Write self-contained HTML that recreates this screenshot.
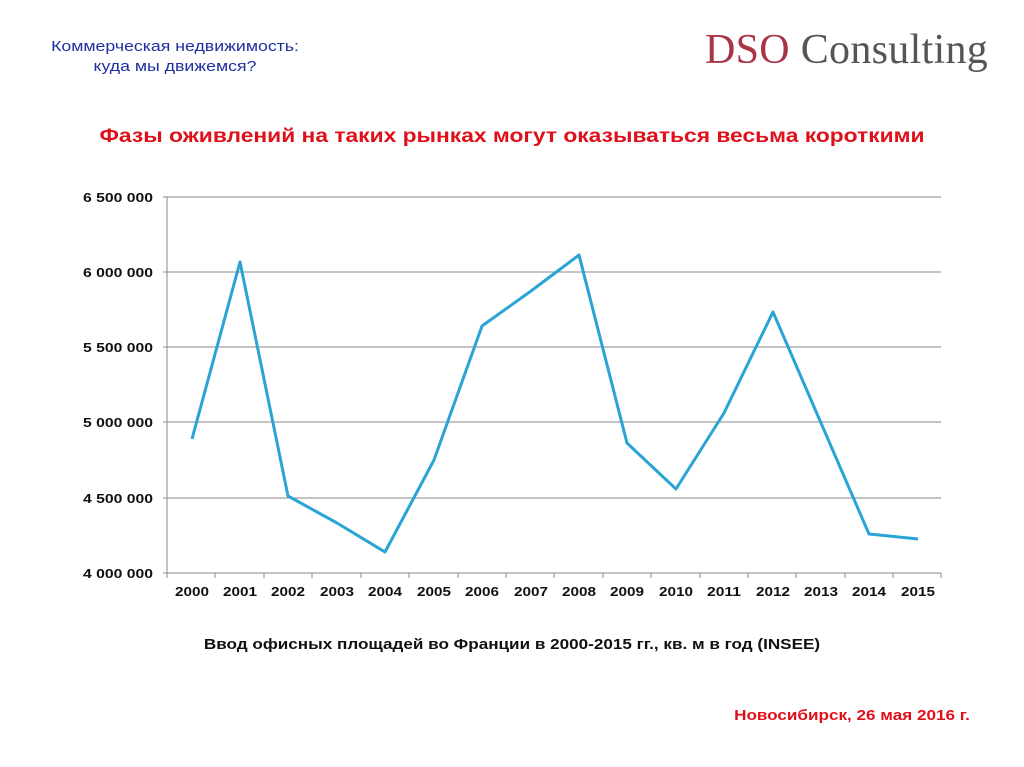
<!DOCTYPE html>
<html><head><meta charset="utf-8"><style>
body{margin:0;background:#fff;width:1024px;height:767px;overflow:hidden;position:relative;font-family:"Liberation Sans",sans-serif}
.t{position:absolute;white-space:nowrap}
.s{transform:scaleX(1.18);transform-origin:center}
</style></head><body>
<div class="t s" style="left:0;width:350px;top:37px;text-align:center;color:#1f2fa0;font-size:15px;line-height:20px">Коммерческая недвижимость:<br>куда мы движемся?</div>
<div class="t" style="left:705px;top:26px;font-family:'Liberation Serif',serif;font-size:42px;color:#555;letter-spacing:0.3px"><span style="color:#a93445">DSO</span> Consulting</div>
<div class="t" style="left:0;width:1024px;top:126px;text-align:center;color:#e0101a;font-size:19px;font-weight:bold;transform:scaleX(1.2);transform-origin:center">Фазы оживлений на таких рынках могут оказываться весьма короткими</div>
<svg class="t" style="left:0;top:0" width="1024" height="767">
<g stroke="#888" stroke-width="1">
<line x1="163" y1="197" x2="941" y2="197"/><line x1="163" y1="272" x2="941" y2="272"/>
<line x1="163" y1="347" x2="941" y2="347"/><line x1="163" y1="422" x2="941" y2="422"/>
<line x1="163" y1="498" x2="941" y2="498"/><line x1="163" y1="573" x2="941" y2="573"/>
<line x1="167" y1="197" x2="167" y2="573"/>
<line x1="167" y1="573" x2="167" y2="578"/><line x1="215" y1="573" x2="215" y2="578"/><line x1="264" y1="573" x2="264" y2="578"/><line x1="312" y1="573" x2="312" y2="578"/><line x1="361" y1="573" x2="361" y2="578"/><line x1="409" y1="573" x2="409" y2="578"/><line x1="458" y1="573" x2="458" y2="578"/><line x1="506" y1="573" x2="506" y2="578"/><line x1="554" y1="573" x2="554" y2="578"/><line x1="603" y1="573" x2="603" y2="578"/><line x1="651" y1="573" x2="651" y2="578"/><line x1="700" y1="573" x2="700" y2="578"/><line x1="748" y1="573" x2="748" y2="578"/><line x1="796" y1="573" x2="796" y2="578"/><line x1="845" y1="573" x2="845" y2="578"/><line x1="893" y1="573" x2="893" y2="578"/><line x1="941" y1="573" x2="941" y2="578"/>
</g>
<g font-size="13" font-weight="bold" fill="#111">
<text x="83" y="202" textLength="70" lengthAdjust="spacingAndGlyphs">6 500 000</text><text x="83" y="277" textLength="70" lengthAdjust="spacingAndGlyphs">6 000 000</text><text x="83" y="352" textLength="70" lengthAdjust="spacingAndGlyphs">5 500 000</text><text x="83" y="427" textLength="70" lengthAdjust="spacingAndGlyphs">5 000 000</text><text x="83" y="503" textLength="70" lengthAdjust="spacingAndGlyphs">4 500 000</text><text x="83" y="578" textLength="70" lengthAdjust="spacingAndGlyphs">4 000 000</text>
</g>
<g font-size="13" font-weight="bold" fill="#111" text-anchor="middle">
<text x="192" y="596" textLength="34" lengthAdjust="spacingAndGlyphs">2000</text><text x="240" y="596" textLength="34" lengthAdjust="spacingAndGlyphs">2001</text><text x="288" y="596" textLength="34" lengthAdjust="spacingAndGlyphs">2002</text><text x="337" y="596" textLength="34" lengthAdjust="spacingAndGlyphs">2003</text><text x="385" y="596" textLength="34" lengthAdjust="spacingAndGlyphs">2004</text><text x="434" y="596" textLength="34" lengthAdjust="spacingAndGlyphs">2005</text><text x="482" y="596" textLength="34" lengthAdjust="spacingAndGlyphs">2006</text><text x="531" y="596" textLength="34" lengthAdjust="spacingAndGlyphs">2007</text><text x="579" y="596" textLength="34" lengthAdjust="spacingAndGlyphs">2008</text><text x="627" y="596" textLength="34" lengthAdjust="spacingAndGlyphs">2009</text><text x="676" y="596" textLength="34" lengthAdjust="spacingAndGlyphs">2010</text><text x="724" y="596" textLength="34" lengthAdjust="spacingAndGlyphs">2011</text><text x="773" y="596" textLength="34" lengthAdjust="spacingAndGlyphs">2012</text><text x="821" y="596" textLength="34" lengthAdjust="spacingAndGlyphs">2013</text><text x="869" y="596" textLength="34" lengthAdjust="spacingAndGlyphs">2014</text><text x="918" y="596" textLength="34" lengthAdjust="spacingAndGlyphs">2015</text>
</g>
<polyline fill="none" stroke="#2aa3d5" stroke-width="3" stroke-linejoin="round" points="192,439 240,262 288,496 337,523 385,552 434,460 482,326 531,291 579,255 627,443 676,489 724,413 773,312 821,423 869,534 918,539"/>
</svg>
<div class="t" style="left:0;width:1024px;top:636px;text-align:center;color:#111;font-size:15px;font-weight:bold;transform:scaleX(1.14);transform-origin:center">Ввод офисных площадей во Франции в 2000-2015 гг., кв. м в год (INSEE)</div>
<div class="t" style="left:734px;width:236px;top:707px;text-align:center;color:#e0101a;font-size:15px;font-weight:bold;transform:scaleX(1.14);transform-origin:center">Новосибирск, 26 мая 2016 г.</div>
</body></html>
